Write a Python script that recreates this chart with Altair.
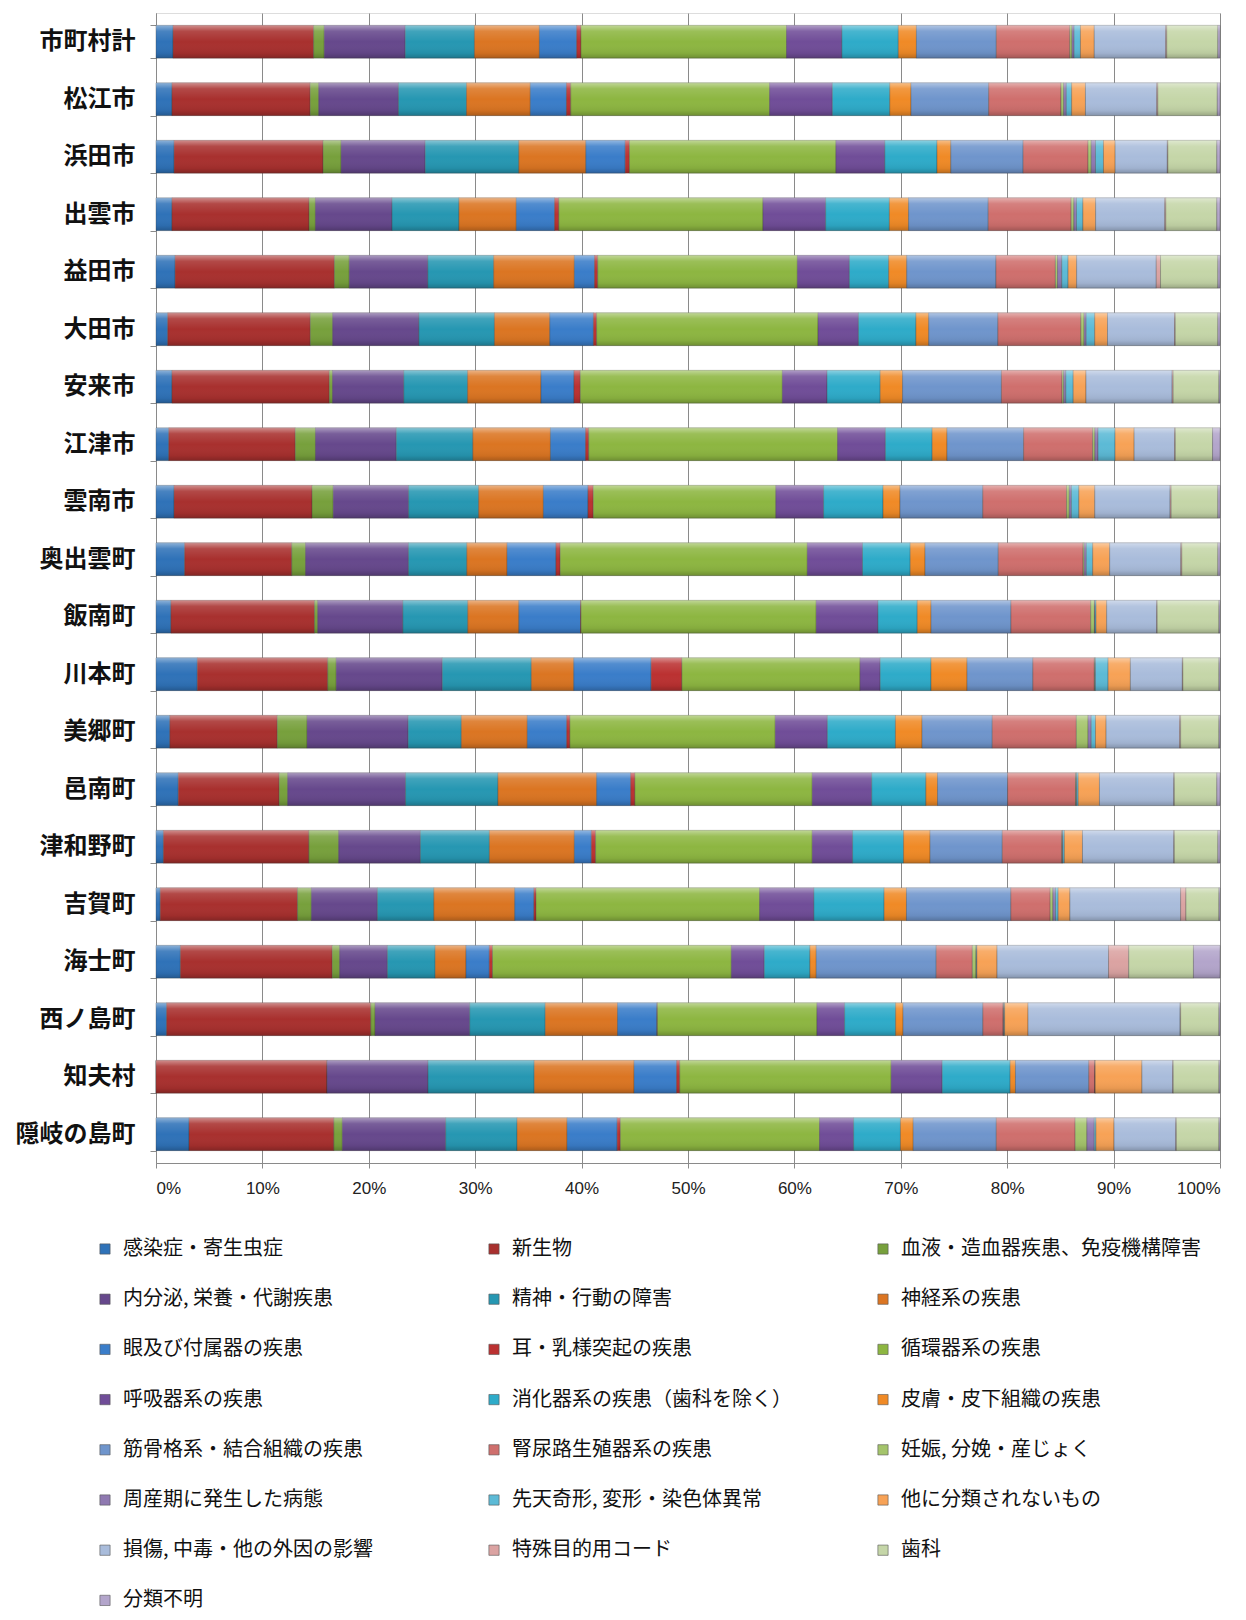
import altair as alt
import pandas as pd

municipalities = ["市町村計", "松江市", "浜田市", "出雲市", "益田市", "大田市", "安来市", "江津市",
                  "雲南市", "奥出雲町", "飯南町", "川本町", "美郷町", "邑南町", "津和野町", "吉賀町",
                  "海士町", "西ノ島町", "知夫村", "隠岐の島町"]

categories = ["感染症・寄生虫症", "新生物", "血液・造血器疾患、免疫機構障害",
              "内分泌, 栄養・代謝疾患", "精神・行動の障害", "神経系の疾患",
              "眼及び付属器の疾患", "耳・乳様突起の疾患", "循環器系の疾患",
              "呼吸器系の疾患", "消化器系の疾患（歯科を除く）", "皮膚・皮下組織の疾患",
              "筋骨格系・結合組織の疾患", "腎尿路生殖器系の疾患", "妊娠, 分娩・産じょく",
              "周産期に発生した病態", "先天奇形, 変形・染色体異常", "他に分類されないもの",
              "損傷, 中毒・他の外因の影響", "特殊目的用コード", "歯科",
              "分類不明"]

colors = ["#2F72B8", "#A8302E", "#77A03C", "#66488C", "#2697B2", "#DB7522",
          "#3A7DC9", "#BB3131", "#8DB641", "#704D98", "#2EABC9", "#F08A26",
          "#6F95CC", "#CF6F6D", "#A4C46B", "#8F79B1", "#5CBAD6", "#F7A256",
          "#A9BCDB", "#DBA3A2", "#C5D6A8", "#B3A5CB"]

total = [1.6, 13.2, 1.0, 7.6, 6.5, 6.1, 3.5, 0.4, 19.3, 5.2, 5.3, 1.7, 7.5, 6.9, 0.2, 0.2, 0.6, 1.3, 6.7, 0.1, 4.8, 0.2]
matsue = [1.5, 13.0, 0.8, 7.5, 6.4, 6.0, 3.4, 0.4, 18.7, 5.9, 5.4, 2.0, 7.3, 6.8, 0.25, 0.25, 0.5, 1.3, 6.7, 0.1, 5.6, 0.25]
hamada = [1.7, 14.0, 1.7, 7.9, 8.8, 6.3, 3.7, 0.4, 19.4, 4.6, 4.9, 1.3, 6.8, 6.1, 0.3, 0.4, 0.75, 1.1, 4.9, 0.05, 4.6, 0.3]
izumo = [1.5, 12.9, 0.6, 7.2, 6.3, 5.4, 3.6, 0.4, 19.2, 5.9, 6.0, 1.8, 7.5, 7.8, 0.25, 0.25, 0.6, 1.2, 6.5, 0.1, 4.8, 0.3]
masuda = [1.8, 15.0, 1.4, 7.4, 6.2, 7.6, 1.9, 0.3, 18.8, 4.9, 3.7, 1.7, 8.4, 5.6, 0.2, 0.4, 0.6, 0.8, 7.5, 0.4, 5.4, 0.2]
oda = [1.1, 13.4, 2.1, 8.1, 7.1, 5.2, 4.1, 0.3, 20.8, 3.8, 5.4, 1.2, 6.5, 7.8, 0.3, 0.2, 0.8, 1.2, 6.3, 0.07, 4.0, 0.2]
yasugi = [1.5, 14.8, 0.3, 6.7, 6.0, 6.9, 3.1, 0.6, 19.0, 4.2, 5.0, 2.1, 9.3, 5.7, 0.15, 0.2, 0.7, 1.2, 8.1, 0.1, 4.3, 0.1]
gotsu = [1.2, 11.9, 1.9, 7.6, 7.2, 7.3, 3.3, 0.3, 23.4, 4.5, 4.4, 1.4, 7.2, 6.5, 0.2, 0.3, 1.6, 1.8, 3.8, 0.07, 3.5, 0.7]
unnan = [1.7, 13.0, 2.0, 7.1, 6.6, 6.1, 4.2, 0.5, 17.2, 4.5, 5.6, 1.6, 7.8, 7.9, 0.25, 0.2, 0.7, 1.5, 7.1, 0.1, 4.4, 0.2]
okuizumo = [2.7, 10.1, 1.3, 9.7, 5.5, 3.8, 4.6, 0.4, 23.3, 5.2, 4.5, 1.4, 6.9, 8.0, 0.1, 0.2, 0.6, 1.6, 6.7, 0.1, 3.4, 0.2]
iinan = [1.4, 13.5, 0.3, 8.0, 6.1, 4.8, 5.8, 0.05, 22.1, 5.8, 3.7, 1.3, 7.5, 7.5, 0.35, 0.05, 0.1, 1.0, 4.7, 0.05, 5.8, 0.1]
kawamoto = [3.9, 12.3, 0.8, 10.0, 8.4, 4.0, 7.3, 2.9, 16.8, 1.9, 4.8, 3.4, 6.2, 5.8, 0.05, 0.05, 1.2, 2.1, 4.9, 0.05, 3.4, 0.1]
misato = [1.3, 10.1, 2.8, 9.5, 5.0, 6.2, 3.7, 0.3, 19.3, 4.9, 6.4, 2.5, 6.6, 7.9, 1.1, 0.3, 0.4, 1.0, 6.9, 0.1, 3.6, 0.1]
onan = [2.1, 9.5, 0.8, 11.1, 8.7, 9.3, 3.2, 0.4, 16.7, 5.6, 5.1, 1.1, 6.6, 6.4, 0.05, 0.05, 0.15, 2.0, 7.0, 0.05, 4.0, 0.3]
tsuwano = [0.7, 13.7, 2.8, 7.7, 6.5, 8.0, 1.6, 0.4, 20.4, 3.8, 4.8, 2.5, 6.8, 5.6, 0.05, 0.05, 0.15, 1.7, 8.6, 0.05, 4.1, 0.2]
yoshika = [0.4, 12.9, 1.3, 6.2, 5.3, 7.6, 1.8, 0.2, 21.0, 5.1, 6.6, 2.1, 9.8, 3.7, 0.25, 0.25, 0.25, 1.1, 10.4, 0.5, 3.1, 0.1]
ama = [2.3, 14.3, 0.7, 4.5, 4.5, 2.9, 2.2, 0.3, 22.5, 3.1, 4.3, 0.6, 11.3, 3.4, 0.35, 0.03, 0.05, 1.9, 10.5, 1.9, 6.1, 2.5]
nishinoshima = [1.0, 19.2, 0.4, 8.9, 7.1, 6.8, 3.7, 0.05, 15.0, 2.6, 4.8, 0.7, 7.5, 1.9, 0.05, 0.05, 0.05, 2.2, 14.3, 0.05, 3.6, 0.1]
chibu = [0, 16.1, 0, 9.5, 10.0, 9.4, 4.0, 0.3, 19.9, 4.8, 6.4, 0.5, 6.9, 0.6, 0, 0, 0, 4.4, 2.9, 0.05, 4.3, 0.1]
okinoshima = [3.1, 13.6, 0.8, 9.7, 6.7, 4.7, 4.7, 0.3, 18.7, 3.2, 4.4, 1.2, 7.8, 7.4, 1.1, 0.7, 0.15, 1.7, 5.8, 0.05, 4.0, 0.1]

rows = [total, matsue, hamada, izumo, masuda, oda, yasugi, gotsu, unnan, okuizumo,
        iinan, kawamoto, misato, onan, tsuwano, yoshika, ama, nishinoshima, chibu, okinoshima]

records = []
for name, vals in zip(municipalities, rows):
    for i, (cat, v) in enumerate(zip(categories, vals)):
        records.append({"市町村": name, "分類": cat, "値": v, "順": i})
df = pd.DataFrame(records)

FONT = "Noto Sans CJK JP"

x_enc = alt.X("値:Q", stack="normalize",
              scale=alt.Scale(domain=[0, 1], nice=False),
              axis=alt.Axis(title=None, format=".0%", values=[i / 10 for i in range(11)],
                            labelFontSize=17, labelFont="Liberation Sans", labelColor="#222",
                            labelPadding=12, grid=True, gridColor="#8a8a8a", gridWidth=1,
                            domainColor="#8a8a8a", tickColor="#8a8a8a", tickSize=5))
y_enc = alt.Y("市町村:N", sort=municipalities,
              scale=alt.Scale(paddingInner=0.43, paddingOuter=0.215),
              axis=alt.Axis(title=None, labelFontSize=24, labelFontWeight="bold", labelFont=FONT,
                            labelColor="#111", tickBand="extent", tickSize=6, labelPadding=15,
                            domainColor="#8a8a8a", tickColor="#8a8a8a"))

base = alt.Chart(df)

bars = base.mark_bar(stroke="#3a3a3a", strokeWidth=0.6, strokeOpacity=0.55).encode(
    x=x_enc,
    y=y_enc,
    color=alt.Color("分類:N", sort=categories,
                    scale=alt.Scale(domain=categories, range=colors),
                    legend=alt.Legend(orient="none", direction="horizontal",
                                      legendX=-61, legendY=1226, columns=3,
                                      columnPadding=61, rowPadding=30.2, symbolType="square",
                                      symbolSize=105, labelFontSize=20, labelFont=FONT,
                                      labelColor="#111", labelLimit=600, gridAlign="all",
                                      title=None, labelOffset=8, padding=0,
                                      symbolStrokeColor="#555", symbolStrokeWidth=0.6)),
    order=alt.Order("順:Q", sort="ascending"),
)

shade = base.mark_bar(
    fill=alt.Gradient(gradient="linear", x1=0, x2=0, y1=0, y2=1,
                      stops=[alt.GradientStop(offset=0, color="rgba(255,255,255,0.45)"),
                             alt.GradientStop(offset=0.18, color="rgba(255,255,255,0.12)"),
                             alt.GradientStop(offset=0.5, color="rgba(255,255,255,0)"),
                             alt.GradientStop(offset=0.85, color="rgba(0,0,0,0.06)"),
                             alt.GradientStop(offset=1, color="rgba(0,0,0,0.22)")])
).encode(
    x=x_enc,
    y=y_enc,
    detail="分類:N",
    order=alt.Order("順:Q", sort="ascending"),
)

chart = alt.layer(bars, shade).properties(
    width=1064, height=1150,
    padding={"left": 7, "top": -7, "right": 10, "bottom": 0},
).configure_view(stroke=None).configure(background="white")

chart.save("out.html", embed_options={"renderer": "svg", "actions": False})
